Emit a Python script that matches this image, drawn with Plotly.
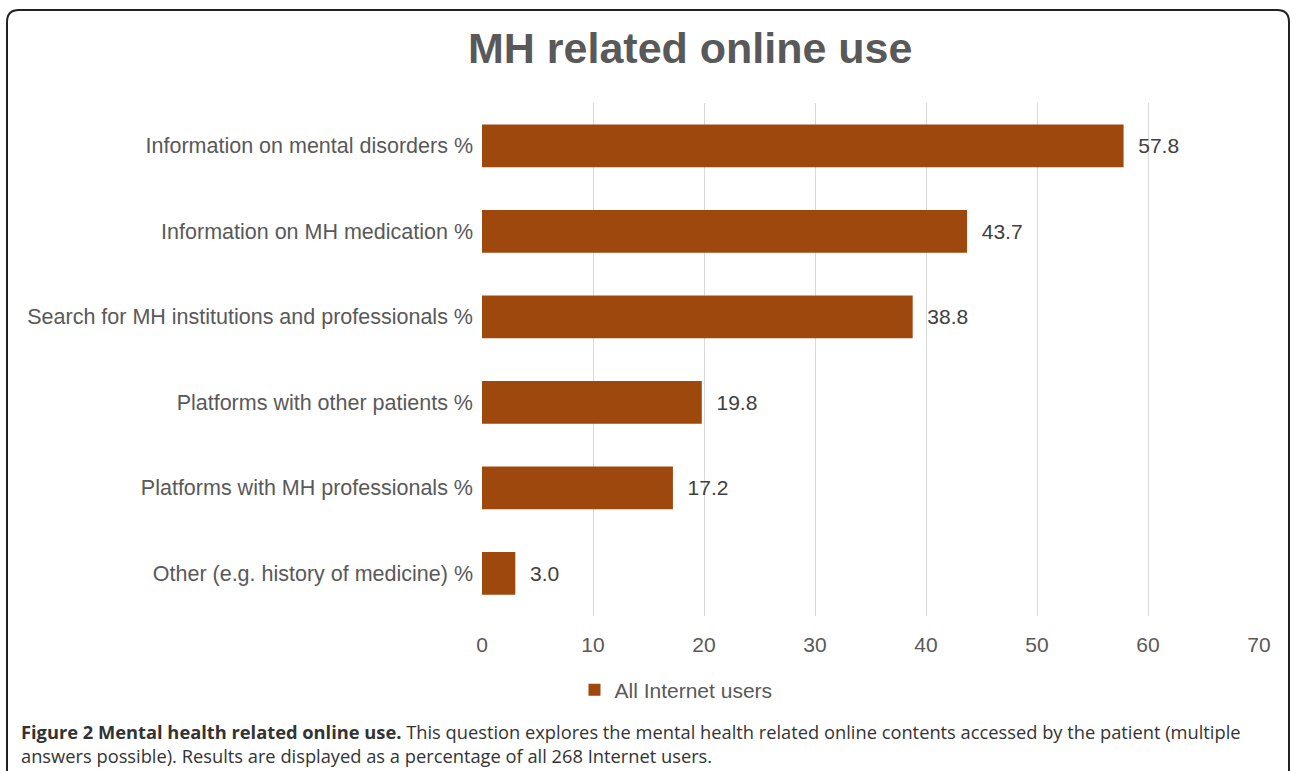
import plotly.graph_objects as go

categories = [
    "Information on mental disorders %",
    "Information on MH medication %",
    "Search for MH institutions and professionals %",
    "Platforms with other patients %",
    "Platforms with MH professionals %",
    "Other (e.g. history of medicine) %",
]
values = [57.8, 43.7, 38.8, 19.8, 17.2, 3.0]
series_name = "All Internet users"
title_text = "MH related online use"
x_ticks = [0, 10, 20, 30, 40, 50, 60, 70]
caption_bold = "Figure 2 Mental health related online use."
caption_rest_1 = " This question explores the mental health related online contents accessed by the patient (multiple"
caption_line_2 = "answers possible). Results are displayed as a percentage of all 268 Internet users."

W, H = 1292, 771
L, R, T, B = 482, 1259, 103, 616  # plot area in pixels


def px(xp):
    return (xp - L) / (R - L)


def py(yp):
    return (B - yp) / (B - T)


bar_color = "#9E480E"
FONT = "Liberation Sans, Arial"

fig = go.Figure()
fig.add_trace(go.Bar(
    y=categories,
    x=values,
    orientation="h",
    name=series_name,
    marker=dict(color=bar_color, line=dict(width=0)),
    width=0.5,
    text=[f"\u00a0\u00a0{v:.1f}" for v in values],
    textposition="outside",
    textfont=dict(family=FONT, size=21, color="#404040"),
    cliponaxis=False,
    showlegend=True,
))

# rounded border box
x0, x1, y0, y1, r = 7, 1289, 10, 800, 12
path = (
    f"M {px(x0)},{py(y1)} L {px(x0)},{py(y0 + r)} "
    f"Q {px(x0)},{py(y0)} {px(x0 + r)},{py(y0)} "
    f"L {px(x1 - r)},{py(y0)} "
    f"Q {px(x1)},{py(y0)} {px(x1)},{py(y0 + r)} "
    f"L {px(x1)},{py(y1)}"
)
fig.add_shape(type="path", path=path, xref="paper", yref="paper",
              line=dict(color="#222222", width=2), layer="above")

fig.add_annotation(
    text=f"<b>{title_text}</b>", xref="paper", yref="paper",
    x=px(690), y=py(48), xanchor="center", yanchor="middle",
    showarrow=False,
    font=dict(family=FONT, size=43, color="#595959"),
)
# Caption
fig.add_annotation(
    text=f"<b>{caption_bold}</b>{caption_rest_1}", xref="paper", yref="paper",
    x=px(19), y=py(731), xanchor="left", yanchor="middle", showarrow=False,
    font=dict(family="Open Sans", size=18.3, color="#333333"),
)
fig.add_annotation(
    text=caption_line_2, xref="paper", yref="paper",
    x=px(19), y=py(755), xanchor="left", yanchor="middle", showarrow=False,
    font=dict(family="Open Sans", size=18.3, color="#333333"),
)

fig.update_layout(
    width=W, height=H,
    margin=dict(l=L, r=W - R, t=T, b=H - B, pad=0),
    paper_bgcolor="white", plot_bgcolor="white",
    font=dict(family=FONT, size=21, color="#595959"),
    xaxis=dict(
        range=[0, 70], tickvals=x_ticks, showgrid=True, gridcolor="#d9d9d9",
        gridwidth=1, zeroline=False, showline=False, ticks="",
        tickfont=dict(size=21, color="#595959"), fixedrange=True,
        ticklabelstandoff=14,
    ),
    yaxis=dict(
        categoryorder="array", categoryarray=categories[::-1],
        autorange=False, range=[-0.5, len(categories) - 0.5],
        showgrid=False, zeroline=False, showline=False, ticks="",
        tickfont=dict(size=21.5, color="#595959"),
        ticklabelstandoff=8,
    ),
    legend=dict(
        orientation="h", x=px(676), xanchor="center", y=py(690), yanchor="middle",
        font=dict(size=21, color="#595959"), itemwidth=30,
    ),
    showlegend=True,
)

fig.write_html("out.html", config={"displayModeBar": False},
               post_script="document.body.style.margin='0px';")
